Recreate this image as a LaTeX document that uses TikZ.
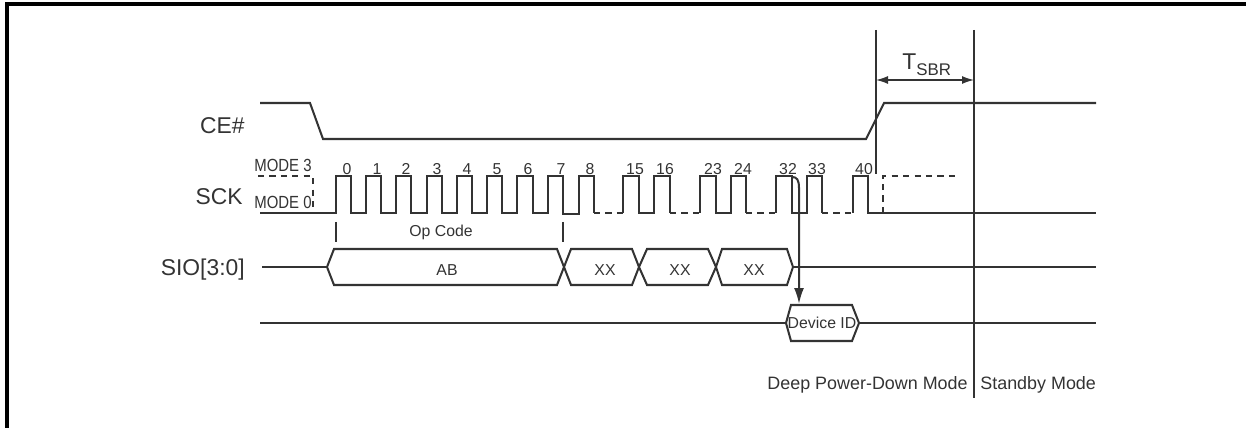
\documentclass[tikz,border=0pt]{standalone}
\usepackage{fontspec}
\setmainfont{Liberation Sans}
\usepackage{graphicx}
\usepackage{tikz}
\usetikzlibrary{arrows.meta}
\definecolor{ink}{HTML}{333333}
\newcommand{\slim}[1]{\scalebox{0.85}[1]{#1}}
\tikzset{
  wave/.style={draw=ink, line width=1.15pt},
  dwave/.style={draw=ink, line width=1.15pt, dash pattern=on 3.5pt off 3pt},
  guide/.style={draw=ink, line width=0.8pt},
  opmark/.style={draw=ink, line width=0.9pt},
  sig/.style={text=ink, font=\fontsize{13}{15}\selectfont, anchor=east, inner sep=0pt},
  modelbl/.style={text=ink, font=\fontsize{10}{11}\selectfont, inner sep=0pt},
  clk/.style={text=ink, font=\fontsize{9}{10}\selectfont, inner sep=0pt, anchor=base},
  buslbl/.style={text=ink, font=\fontsize{9}{10}\selectfont, inner sep=0pt},
  phase/.style={text=ink, font=\fontsize{10.2}{12}\selectfont, inner sep=0pt},
  arrow/.style={-{Latex[length=3.2mm,width=2mm]}, draw=ink, line width=1.15pt},
  span/.style={{Latex[length=2.4mm,width=1.6mm]}-{Latex[length=2.4mm,width=1.6mm]}, draw=ink, line width=0.8pt}
}
\begin{document}
\begin{tikzpicture}[x=0.02cm, y=-0.02cm]
  \useasboundingbox (0,0) rectangle (1246,428);
  \draw[black, line width=2pt] (7,428) -- (7,4) -- (1246,4);

  \node[sig] (ce) at (245,126) {CE\#};
  \node[sig] (sck) at (243,197) {SCK};
  \node[sig] (sio) at (245,270) {SIO[3:0]};

  \draw[wave] (260,103) -- (310,103) -- (323,139) -- (866,139) -- (884,103) -- (1096,103);

  \node[modelbl] (m3) at (283,165) {\slim{MODE 3}};
  \node[modelbl] (m0) at (283,202) {\slim{MODE 0}};
  \draw[dwave] (258,176) -- (313,176) -- (313,213);
  \draw[wave] (260,213) -- (336,213) -- (336,176) -- (351,176) -- (351,213)
    -- (366,213) -- (366,176) -- (381,176) -- (381,213)
    -- (396,213) -- (396,176) -- (411,176) -- (411,213)
    -- (427,213) -- (427,176) -- (442,176) -- (442,213)
    -- (457,213) -- (457,176) -- (472,176) -- (472,213)
    -- (487,213) -- (487,176) -- (502,176) -- (502,213)
    -- (517,213) -- (517,176) -- (533,176) -- (533,213)
    -- (548,213) -- (548,176) -- (563,176) -- (563,214)
    -- (579,214) -- (579,176) -- (594,176) -- (594,213);
  \draw[dwave] (594,213) -- (623,213);
  \draw[wave] (623,213) -- (623,176) -- (639,176) -- (639,213)
    -- (654,213) -- (654,176) -- (670,176) -- (670,213);
  \draw[dwave] (670,213) -- (700,213);
  \draw[wave] (700,213) -- (700,176) -- (716,176) -- (716,213)
    -- (731,213) -- (731,176) -- (746,176) -- (746,213);
  \draw[dwave] (746,213) -- (776,213);
  \draw[wave] (776,213) -- (776,176) -- (792,176) -- (792,213)
    -- (807,213) -- (807,176) -- (822,176) -- (822,213);
  \draw[dwave] (822,213) -- (853,213);
  \draw[wave] (853,213) -- (853,176) -- (868,176) -- (868,213) -- (1096,213);
  \draw[dwave] (883,213) -- (883,176) -- (959,176);

  \node[clk] (n0) at (347,175) {0};
  \node[clk] (n1) at (377,175) {1};
  \node[clk] (n2) at (406,175) {2};
  \node[clk] (n3) at (437,175) {3};
  \node[clk] (n4) at (467,175) {4};
  \node[clk] (n5) at (497,175) {5};
  \node[clk] (n6) at (528,175) {6};
  \node[clk] (n7) at (561,175) {7};
  \node[clk] (n8) at (590,175) {8};
  \node[clk] (n15) at (635,175) {15};
  \node[clk] (n16) at (665,175) {16};
  \node[clk] (n23) at (713,175) {23};
  \node[clk] (n24) at (743,175) {24};
  \node[clk] (n32) at (788,175) {32};
  \node[clk] (n33) at (817,175) {33};
  \node[clk] (n40) at (864,175) {40};

  \draw[opmark] (336,222) -- (336,242);
  \draw[opmark] (563,222) -- (563,242);
  \node[buslbl] (op) at (441,232) {Op Code};

  \draw[wave] (262,267) -- (327,267);
  \draw[wave, line join=miter] (327,267) -- (334,249) -- (557,249) -- (564,267) -- (557,285) -- (334,285) -- cycle;
  \draw[wave, line join=miter] (564,267) -- (571,249) -- (632,249) -- (639,267) -- (632,285) -- (571,285) -- cycle;
  \draw[wave, line join=miter] (639,267) -- (647,249) -- (708,249) -- (716,267) -- (708,285) -- (647,285) -- cycle;
  \draw[wave, line join=miter] (716,267) -- (722,249) -- (787,249) -- (793,267) -- (787,285) -- (722,285) -- cycle;
  \draw[wave] (793,267) -- (1096,267);
  \node[buslbl] (ab) at (447,270) {AB};
  \node[buslbl] (xx1) at (605,270) {XX};
  \node[buslbl] (xx2) at (680,270) {XX};
  \node[buslbl] (xx3) at (754,270) {XX};

  \draw[wave] (260,323) -- (786,323);
  \draw[wave, line join=miter] (786,323) -- (791,305) -- (852,305) -- (859,323) -- (852,341) -- (791,341) -- cycle;
  \draw[wave] (859,323) -- (1096,323);
  \node[buslbl] (devid) at (822,323) {Device ID};

  \coordinate (c32) at (792,177);
  \coordinate (idtop) at (799,304);
  \draw[arrow] (c32) .. controls (797,177) and (799,180) .. (799,188) -- (idtop);

  \draw[guide] (876,30) -- (876,174);
  \draw[guide] (974,30) -- (974,398);
  \coordinate (sbra) at (876,80);
  \coordinate (sbrb) at (974,80);
  \draw[span] (sbra) -- (sbrb);
  \node[sig, anchor=base west] (tsbr) at (902,70) {T\raisebox{-3.4pt}{\fontsize{9.6}{10}\selectfont SBR}};

  \node[phase, anchor=base east] (dpd) at (968,389) {Deep Power-Down Mode};
  \node[phase, anchor=base west] (stby) at (980,389) {Standby Mode};
\end{tikzpicture}
\end{document}
